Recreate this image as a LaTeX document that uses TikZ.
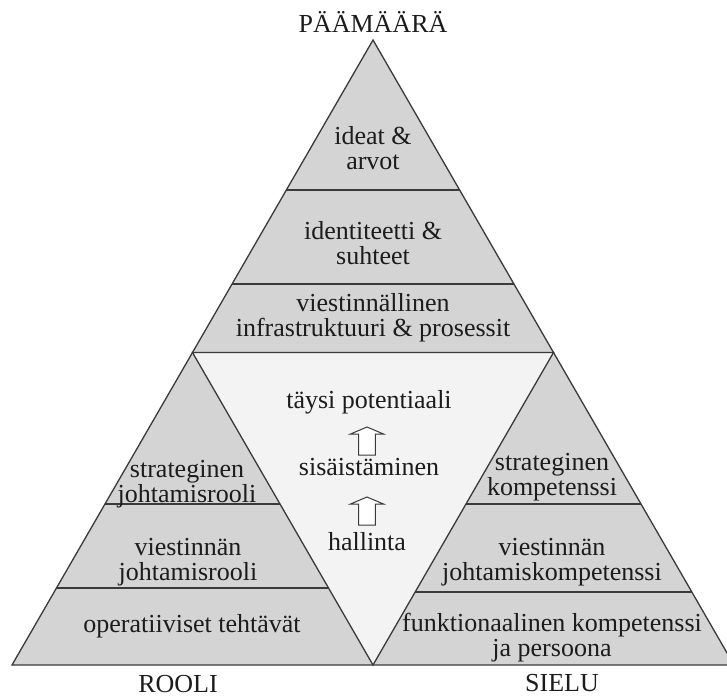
\documentclass[tikz,border=0pt]{standalone}
\usepackage{fontspec}
\setmainfont{Liberation Serif}
\usetikzlibrary{calc}
\definecolor{layer}{RGB}{212,212,212}
\definecolor{core}{RGB}{243,243,243}
\definecolor{edge}{RGB}{58,58,58}
\definecolor{ink}{RGB}{28,28,28}
\begin{document}
\begin{tikzpicture}[x=1pt,y=-1pt,
  txt/.style={font=\fontsize{26}{24.5}\selectfont, text=ink, align=center, inner sep=0pt, anchor=base},
  outline/.style={draw=edge, line width=1.3pt, line join=miter},
  divider/.style={draw=edge, line width=1.3pt},
  blockarrow/.style={draw=edge, fill=white, line width=1pt, line join=miter},
  uparrow/.pic={\path[blockarrow] (0,0) -- (16.5,7) -- (8.4,7) -- (8.4,28) -- (-8.4,28) -- (-8.4,7) -- (-16.5,7) -- cycle;}]
\useasboundingbox (0,0) rectangle (727,698);
\fill[white] (0,0) rectangle (727,698);

% corners of the big triangle and the midpoints of its sides
\coordinate (A) at (373,40);
\coordinate (L) at (12,665);
\coordinate (R) at (734,665);
\coordinate (ML) at ($(A)!0.5!(L)$);
\coordinate (MR) at ($(A)!0.5!(R)$);
\coordinate (MB) at ($(L)!0.5!(R)$);

% three grey corner triangles and the light inverted core
\path[outline, fill=layer] (A) -- (L) -- (R) -- cycle;
\path[outline, fill=core] (ML) -- (MR) -- (MB) -- cycle;

% layer dividers: top triangle
\draw[divider] ($(A)!0.48!(ML)$) -- ($(A)!0.48!(MR)$);
\draw[divider] ($(A)!0.7808!(ML)$) -- ($(A)!0.7808!(MR)$);
% left triangle
\draw[divider] ($(ML)!0.4848!(L)$) -- ($(ML)!0.4848!(MB)$);
\draw[divider] ($(ML)!0.7536!(L)$) -- ($(ML)!0.7536!(MB)$);
% right triangle
\draw[divider] ($(MR)!0.4848!(MB)$) -- ($(MR)!0.4848!(R)$);
\draw[divider] ($(MR)!0.7664!(MB)$) -- ($(MR)!0.7664!(R)$);

% top triangle texts
\node[txt] (t1) at (373,169) {ideat \&\\arvot};
\node[txt] (t2) at (373,264) {identiteetti \&\\suhteet};
\node[txt] (t3) at (373,336) {viestinnällinen\\infrastruktuuri \& prosessit};

% left triangle texts
\node[txt] (l1) at (187,502) {strateginen\\johtamisrooli};
\node[txt] (l2) at (188,580) {viestinnän\\johtamisrooli};
\node[txt] (l3) at (192,632) {operatiiviset tehtävät};

% right triangle texts
\node[txt] (r1) at (552,495) {strateginen\\kompetenssi};
\node[txt] (r2) at (552,580) {viestinnän\\johtamiskompetenssi};
\node[txt] (r3) at (552,656) {funktionaalinen kompetenssi\\ja persoona};

% core texts and block arrows
\node[txt] (c1) at (369,408) {täysi potentiaali};
\node[txt] (c2) at (369,475) {sisäistäminen};
\node[txt] (c3) at (367,550) {hallinta};
\pic at (367,427) {uparrow};
\pic at (367,497) {uparrow};

% corner labels
\node[txt] (goal) at (373,33) {PÄÄMÄÄRÄ};
\node[txt] (role) at (178,692) {ROOLI};
\node[txt] (soul) at (562,691) {SIELU};
\end{tikzpicture}
\end{document}
